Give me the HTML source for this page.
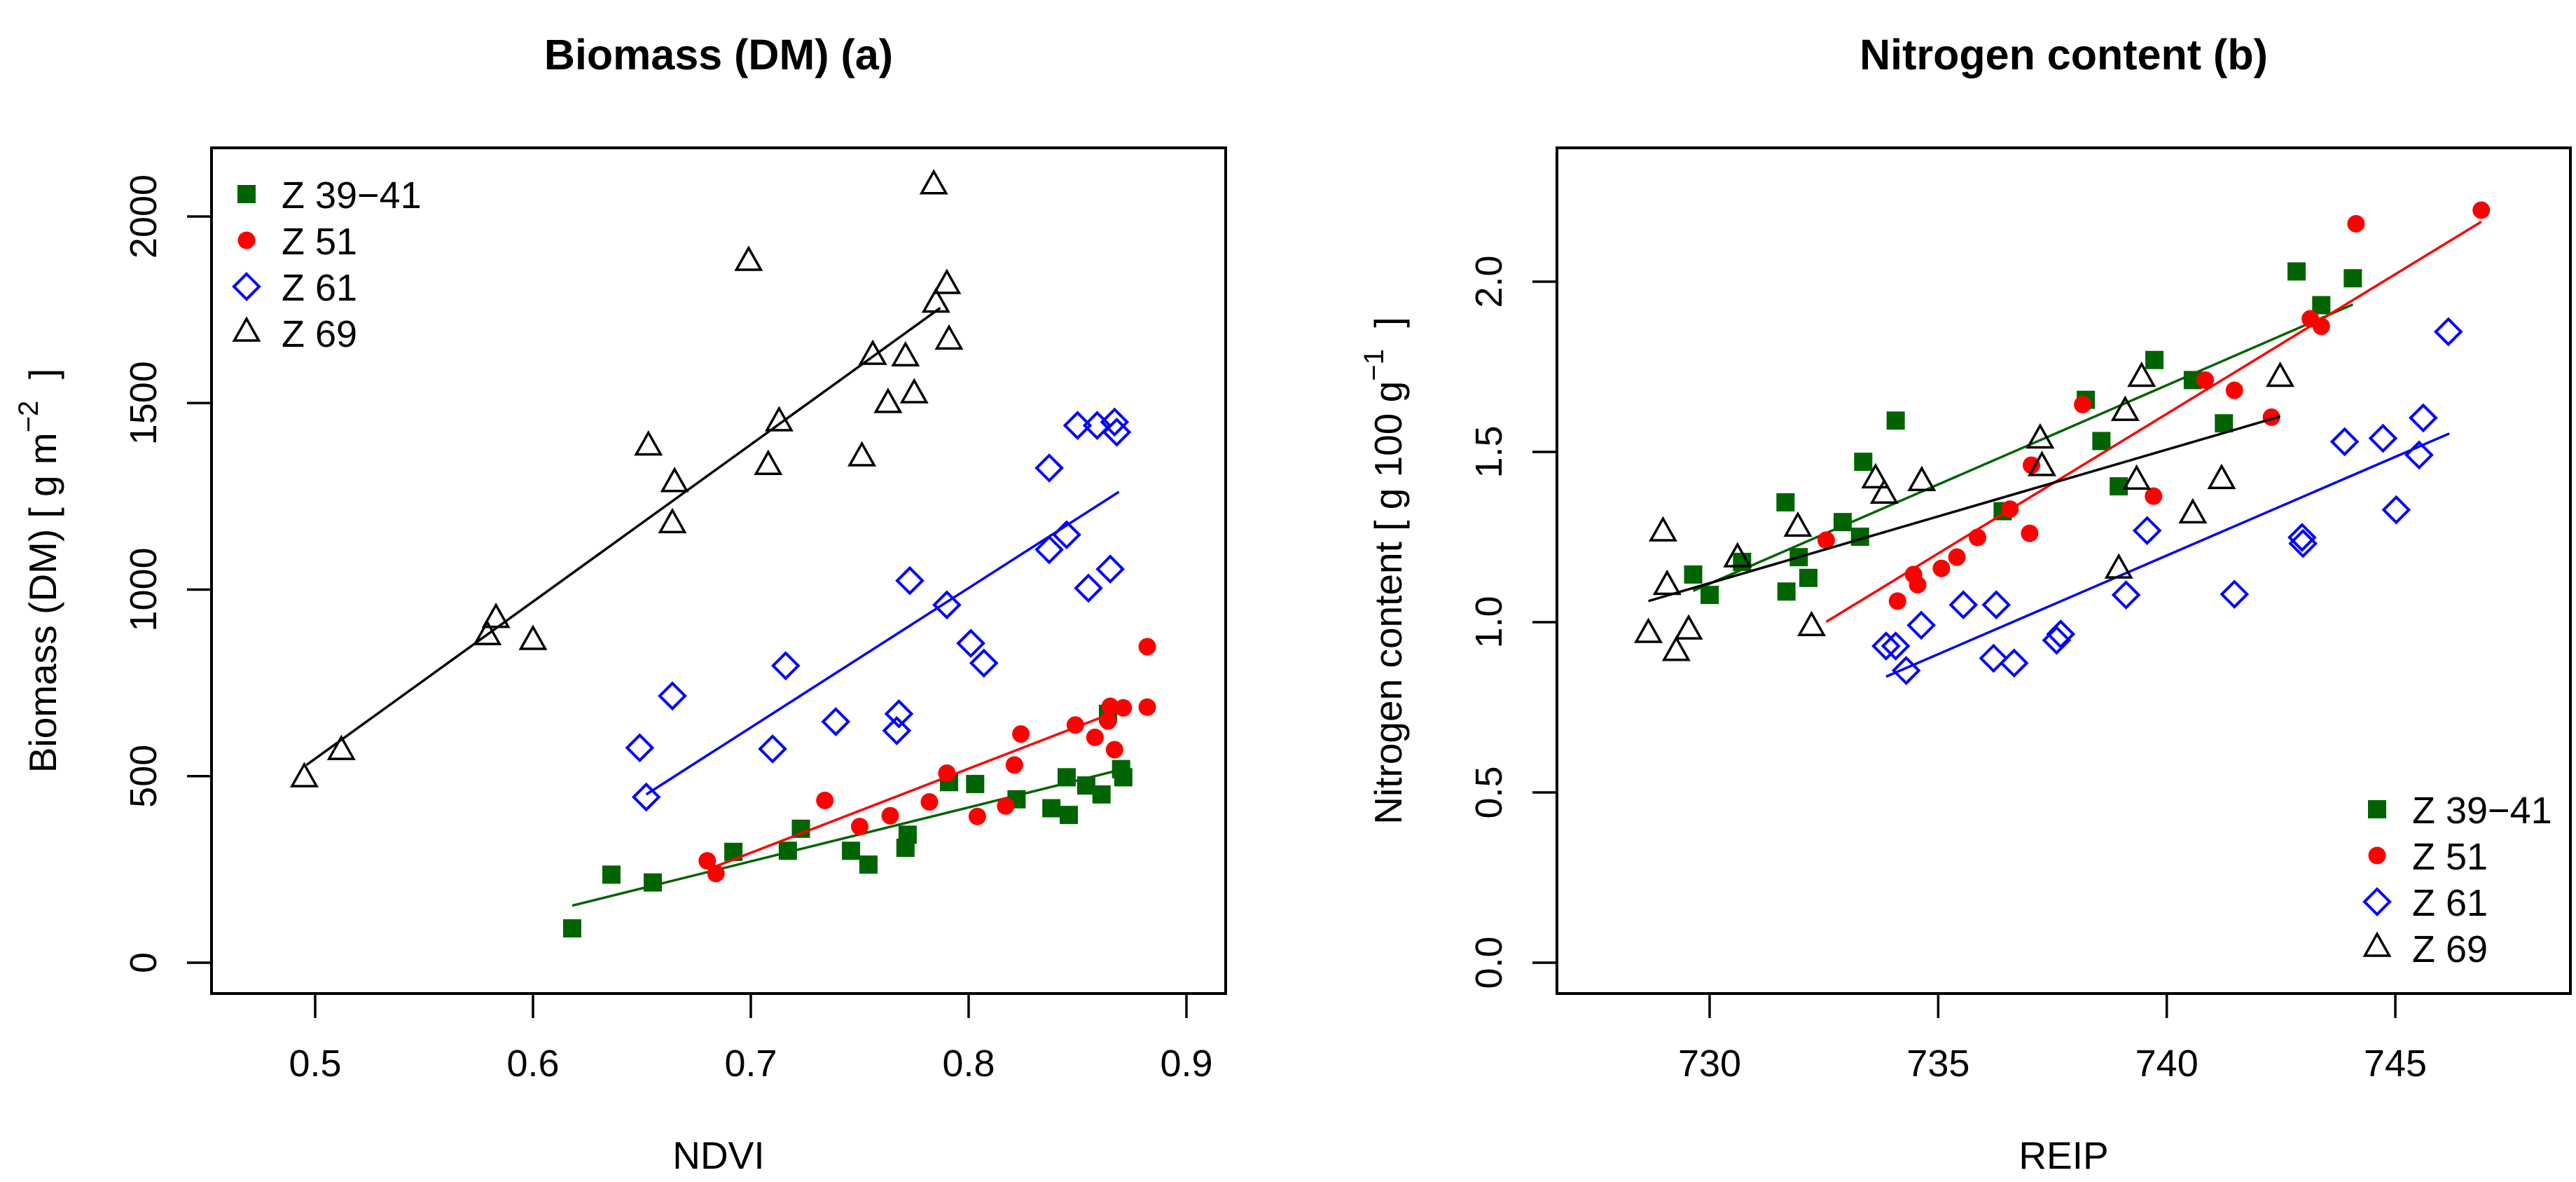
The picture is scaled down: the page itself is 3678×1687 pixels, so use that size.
<!DOCTYPE html>
<html><head><meta charset="utf-8"><style>
html,body{margin:0;padding:0;background:#fff;}
svg{display:block;font-family:"Liberation Sans",Arial,sans-serif;}
</style></head><body>
<svg id="fig" width="3678" height="1687" viewBox="0 0 3678 1687" xmlns="http://www.w3.org/2000/svg">
<rect width="3678" height="1687" fill="#fff"/>
<g id="panelA"></g>
<g id="panelB"></g>
</svg>
<script>
// ---------- Panel (a) data: NDVI vs Biomass ----------
const a_z39_x = [0.618,0.636,0.655,0.692,0.717,0.723,0.746,0.754,0.771,0.772,0.791,0.803,0.822,0.838,0.845,0.846,0.854,0.861,0.864,0.870,0.871];
const a_z39_y = [92,236,215,297,300,359,300,263,308,343,484,479,438,414,497,396,475,451,667,519,497];
const a_z51_x = [0.680,0.684,0.734,0.750,0.764,0.782,0.790,0.804,0.817,0.821,0.824,0.849,0.858,0.864,0.865,0.867,0.871,0.882,0.882];
const a_z51_y = [273,239,435,365,394,431,508,392,420,530,613,637,604,648,687,571,683,847,685];
const a_z61_x = [0.649,0.652,0.664,0.710,0.716,0.739,0.767,0.768,0.773,0.790,0.801,0.807,0.837,0.837,0.845,0.850,0.855,0.859,0.865,0.867,0.868];
const a_z61_y = [576,444,715,573,796,646,622,667,1024,959,856,803,1326,1107,1147,1440,1004,1440,1055,1449,1422];
const a_z69_x = [0.495,0.512,0.579,0.583,0.600,0.653,0.665,0.664,0.699,0.708,0.713,0.751,0.756,0.763,0.771,0.775,0.784,0.785,0.790,0.791];
const a_z69_y = [494,567,875,921,862,1383,1285,1175,1878,1331,1448,1354,1626,1497,1622,1523,2083,1766,1816,1667];
// regression line endpoints [x0,y0,x1,y1]
const a_fit_z39 = [0.618,153,0.869,516];
const a_fit_z51 = [0.682,254,0.870,678];
const a_fit_z61 = [0.652,451,0.869,1262];
const a_fit_z69 = [0.496,530,0.787,1755];
const a_xticks = [0.5,0.6,0.7,0.8,0.9];
const a_xtickLabels = ["0.5","0.6","0.7","0.8","0.9"];
const a_yticks = [0,500,1000,1500,2000];
const a_ytickLabels = ["0","500","1000","1500","2000"];

// ---------- Panel (b) data: REIP vs Nitrogen ----------
const b_z39_x = [729.64,730.00,730.71,731.66,731.68,731.95,732.16,732.91,733.29,733.36,734.07,736.41,738.23,738.57,738.95,739.73,740.57,741.25,742.84,743.38,744.07];
const b_z39_y = [1.140,1.080,1.177,1.352,1.090,1.191,1.130,1.294,1.251,1.471,1.592,1.326,1.653,1.532,1.399,1.770,1.711,1.584,2.030,1.931,2.010];
const b_z51_x = [732.55,734.11,734.46,734.55,735.07,735.41,735.86,736.57,737.00,737.04,738.16,739.71,740.84,741.48,742.29,743.14,743.38,744.14,746.88];
const b_z51_y = [1.241,1.062,1.140,1.110,1.158,1.191,1.249,1.332,1.261,1.461,1.639,1.370,1.711,1.681,1.602,1.891,1.869,2.170,2.210];
const b_z61_x = [733.86,734.07,734.30,734.63,735.55,736.21,736.27,736.66,737.59,737.68,739.11,739.57,741.48,742.96,742.98,743.89,744.73,745.02,745.52,745.61,746.16];
const b_z61_y = [0.930,0.930,0.858,0.991,1.051,0.894,1.051,0.880,0.947,0.965,1.080,1.269,1.082,1.249,1.231,1.530,1.540,1.330,1.491,1.600,1.853];
const b_z69_x = [728.66,728.98,729.07,729.27,729.54,730.61,731.93,732.23,733.63,733.82,734.64,737.23,737.27,738.95,739.09,739.34,739.45,740.57,741.20,742.48];
const b_z69_y = [0.965,1.263,1.106,0.912,0.975,1.187,1.277,0.985,1.419,1.374,1.411,1.536,1.455,1.154,1.617,1.415,1.717,1.316,1.417,1.717];
const b_fit_z39 = [729.64,1.092,744.07,1.933];
const b_fit_z51 = [732.55,1.001,746.88,2.176];
const b_fit_z61 = [733.86,0.840,746.18,1.554];
const b_fit_z69 = [728.66,1.062,742.48,1.604];
const b_xticks = [730,735,740,745];
const b_xtickLabels = ["730","735","740","745"];
const b_yticks = [0,0.5,1.0,1.5,2.0];
const b_ytickLabels = ["0.0","0.5","1.0","1.5","2.0"];

const NS = "http://www.w3.org/2000/svg";
function mk(parent, tag, attrs){
  const e = document.createElementNS(NS, tag);
  for (const k in attrs) e.setAttribute(k, attrs[k]);
  parent.appendChild(e);
  return e;
}
const GREEN = "#006400", RED = "#ff0000", BLUE = "#0000ff", BLACK = "#000000";

function marker(g, kind, cx, cy){
  let el;
  if (kind === "square") {
    el = mk(g, "rect", {x: cx-13, y: cy-13, width: 26, height: 26, fill: GREEN});
  } else if (kind === "circle") {
    el = mk(g, "circle", {cx: cx, cy: cy, r: 12.5, fill: RED});
  } else if (kind === "diamond") {
    el = mk(g, "polygon", {points: `${cx},${cy-18} ${cx+18},${cy} ${cx},${cy+18} ${cx-18},${cy}`, fill: "none", stroke: BLUE, "stroke-width": 4});
  } else {
    el = mk(g, "polygon", {points: `${cx},${cy-20} ${cx+17.5},${cy+11} ${cx-17.5},${cy+11}`, fill: "none", stroke: BLACK, "stroke-width": 3.5, "stroke-linejoin": "miter"});
  }
  return el;
}

function drawPanel(g, cfg){
  const X = v => cfg.x0px + (v - cfg.x0v) * cfg.xs;
  const Y = v => cfg.y0px - (v - cfg.y0v) * cfg.ys;
  const B = cfg.box;
  // title
  const t = mk(g, "text", {x: (B[0]+B[2])/2, y: 99, "text-anchor": "middle", "font-size": 61, "font-weight": "bold"});
  t.textContent = cfg.title;
  
  
  // box
  const box = mk(g, "rect", {x: B[0], y: B[1], width: B[2]-B[0], height: B[3]-B[1], fill: "none", stroke: "#000", "stroke-width": 4});
  
  
  // x ticks
  cfg.xticks.forEach((v, i) => {
    const px = X(v);
    const tk = mk(g, "line", {x1: px, y1: B[3], x2: px, y2: B[3]+35, stroke: "#000", "stroke-width": 3.5});
    
    
    const lb = mk(g, "text", {x: px, y: 1536, "text-anchor": "middle", "font-size": 54});
    lb.textContent = cfg.xtickLabels[i];
    
    
  });
  // y ticks
  cfg.yticks.forEach((v, i) => {
    const py = Y(v);
    const tk = mk(g, "line", {x1: B[0]-35, y1: py, x2: B[0], y2: py, stroke: "#000", "stroke-width": 3.5});
    
    
    const lx = B[0] - 79;
    const lb = mk(g, "text", {x: lx, y: py, "text-anchor": "middle", "font-size": 54, transform: `rotate(-90 ${lx} ${py})`});
    lb.textContent = cfg.ytickLabels[i];
    
    
  });
  // axis titles
  const xt = mk(g, "text", {x: (B[0]+B[2])/2, y: 1668, "text-anchor": "middle", "font-size": 55});
  xt.textContent = cfg.xlab;
  
  
  const yx = B[0] - 222, yy = (B[1]+B[3])/2;
  const yt = mk(g, "text", {x: yx, y: yy, "text-anchor": "middle", "font-size": 55, transform: `rotate(-90 ${yx} ${yy})`});
  
  
  const s1 = mk(yt, "tspan", {}); s1.textContent = cfg.ylab1;
  const s2 = mk(yt, "tspan", {dy: -26, "font-size": 40}); s2.textContent = cfg.ysup;
  const s3 = mk(yt, "tspan", {dy: 26}); s3.textContent = "\u00a0\u00a0]";
  // series
  cfg.series.forEach(s => {
    const sg = mk(g, "g", {});
    
    
    const f = s.fit;
    const ln = mk(sg, "line", {x1: X(f[0]), y1: Y(f[1]), x2: X(f[2]), y2: Y(f[3]), stroke: s.color, "stroke-width": 3.5});
    
    
    s.xs.forEach((xv, i) => {
      const m = marker(sg, s.kind, X(xv), Y(s.ys[i]));
      
      
    });
  });
  // legend
  const lg = mk(g, "g", {});
  
  
  cfg.series.forEach((s, i) => {
    const cy = cfg.legend[1] + i * 66;
    const e = mk(lg, "g", {});
    
    
    marker(e, s.kind, cfg.legend[0], cy);
    const tx = mk(e, "text", {x: cfg.legend[0] + 50, y: cy + 20, "font-size": 54});
    tx.textContent = s.label;
  });
}

drawPanel(document.getElementById("panelA"), {
  title: "Biomass (DM) (a)", xlab: "NDVI", ylab1: "Biomass (DM) [ g m", ysup: "\u22122",
  box: [302, 211, 1750, 1418],
  x0v: 0.5, x0px: 450, xs: 3110,
  y0v: 0, y0px: 1374, ys: 0.5325,
  xticks: a_xticks, xtickLabels: a_xtickLabels, yticks: a_yticks, ytickLabels: a_ytickLabels,
  legend: [352, 277],
  series: [
    {name: "series-z39-41", label: "Z 39\u221241", kind: "square", color: GREEN, xs: a_z39_x, ys: a_z39_y, fit: a_fit_z39},
    {name: "series-z51", label: "Z 51", kind: "circle", color: RED, xs: a_z51_x, ys: a_z51_y, fit: a_fit_z51},
    {name: "series-z61", label: "Z 61", kind: "diamond", color: BLUE, xs: a_z61_x, ys: a_z61_y, fit: a_fit_z61},
    {name: "series-z69", label: "Z 69", kind: "triangle", color: BLACK, xs: a_z69_x, ys: a_z69_y, fit: a_fit_z69}
  ]
});
drawPanel(document.getElementById("panelB"), {
  title: "Nitrogen content (b)", xlab: "REIP", ylab1: "Nitrogen content [ g 100 g", ysup: "\u22121",
  box: [2223, 211, 3670, 1418],
  x0v: 730, x0px: 2441, xs: 65.27,
  y0v: 0, y0px: 1374, ys: 486,
  xticks: b_xticks, xtickLabels: b_xtickLabels, yticks: b_yticks, ytickLabels: b_ytickLabels,
  legend: [3394, 1155],
  series: [
    {name: "series-z39-41", label: "Z 39\u221241", kind: "square", color: GREEN, xs: b_z39_x, ys: b_z39_y, fit: b_fit_z39},
    {name: "series-z51", label: "Z 51", kind: "circle", color: RED, xs: b_z51_x, ys: b_z51_y, fit: b_fit_z51},
    {name: "series-z61", label: "Z 61", kind: "diamond", color: BLUE, xs: b_z61_x, ys: b_z61_y, fit: b_fit_z61},
    {name: "series-z69", label: "Z 69", kind: "triangle", color: BLACK, xs: b_z69_x, ys: b_z69_y, fit: b_fit_z69}
  ]
});
</script>
</body></html>
